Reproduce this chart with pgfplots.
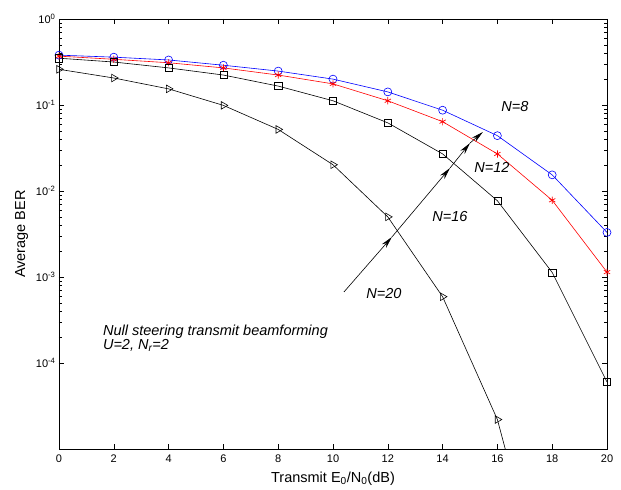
\documentclass[border=0pt]{standalone}
\usepackage{fontspec}
\setmainfont{Liberation Sans}
\usepackage{pgfplots}
\pgfplotsset{compat=1.18}
\usetikzlibrary{arrows.meta}

\begin{document}
\begin{tikzpicture}
\begin{axis}[
  name=ax,
  scale only axis,
  width=548pt, height=430pt,
  xmin=0, xmax=20,
  ymode=log, ymin=1e-5, ymax=1,
  xtick={0,2,...,20},
  ytick={1e-4,1e-3,1e-2,1e-1,1},
  yticklabels={10\textsuperscript{-4},10\textsuperscript{-3},10\textsuperscript{-2},10\textsuperscript{-1},10\textsuperscript{0}},
  /pgf/number format/assume math mode=true,
  tick label style={font=\fontsize{11}{12}\selectfont},
  xticklabel style={yshift=-2pt},
  major tick length=5pt, minor tick length=3pt,
  tick style={black, line width=0.5pt},
  axis line style={line width=0.8pt},
  xlabel={Transmit E\textsubscript{0}/N\textsubscript{0}(dB)},
  ylabel={Average BER},
  label style={font=\fontsize{14.5}{15}\selectfont},
  xlabel style={yshift=-3pt},
  ylabel style={yshift=1pt},
  every axis plot/.append style={line width=0.6pt},
]
% N=8
\addplot[blue, mark=o, mark size=4pt, mark options={line width=0.6pt}] coordinates {
  (0,0.38) (2,0.36) (4,0.334) (6,0.29) (8,0.248) (10,0.20)
  (12,0.142) (14,0.087) (16,0.044) (18,0.0154) (20,0.0033)
};
% N=12
\addplot[red, mark=asterisk, mark size=3.6pt, mark options={line width=0.7pt}] coordinates {
  (0,0.37) (2,0.34) (4,0.31) (6,0.27) (8,0.223) (10,0.176)
  (12,0.112) (14,0.064) (16,0.027) (18,0.0078) (20,0.00114)
};
% N=16
\addplot[black, mark=square, mark size=3.6pt, mark options={line width=0.6pt}] coordinates {
  (0,0.35) (2,0.316) (4,0.27) (6,0.223) (8,0.166) (10,0.112)
  (12,0.062) (14,0.027) (16,0.0077) (18,0.00113) (20,6.0e-5)
};
% N=20
\addplot[black, mark=triangle, mark size=4.4pt, mark options={rotate=-90, line width=0.6pt}] coordinates {
  (0,0.26) (2,0.206) (4,0.154) (6,0.099) (8,0.052) (10,0.0202)
  (12,0.005) (14,5.9e-4) (16,2.2e-5) (18,9e-8)
};

% annotation arrows
\draw[line width=0.6pt, -{Stealth[length=12pt, width=5.5pt]}] (axis cs:10.4,6.7e-4) -- (axis cs:12.15,2.92e-3);
\draw[line width=0.6pt, -{Stealth[length=12pt, width=5.5pt]}] (axis cs:12.15,2.92e-3) -- (axis cs:14.27,0.0185);
\draw[line width=0.6pt, -{Stealth[length=12pt, width=5.5pt]}] (axis cs:14.27,0.0185) -- (axis cs:15.0,0.0361);
\draw[line width=0.6pt, -{Stealth[length=12pt, width=5.5pt]}] (axis cs:15.0,0.0361) -- (axis cs:15.47,0.0485);

\node[font=\fontsize{14.5}{15}\selectfont\itshape] at (axis cs:16.64,0.095) {N=8};
\node[font=\fontsize{14.5}{15}\selectfont\itshape] at (axis cs:15.8,0.019) {N=12};
\node[font=\fontsize{14.5}{15}\selectfont\itshape] at (axis cs:14.27,0.0051) {N=16};
\node[font=\fontsize{14.5}{15}\selectfont\itshape] at (axis cs:11.86,6.5e-4) {N=20};

\node[anchor=north west, align=left, inner sep=0pt,
      font=\fontsize{14.5}{12}\selectfont\itshape] at (axis cs:1.6,2.8e-4)
  {Null steering transmit beamforming\\U=2, N\textsubscript{r}=2};
\end{axis}
\path (ax.south west) ++(-59pt,-40pt);
\path (ax.north east) ++(14pt,19pt);
\end{tikzpicture}
\end{document}
